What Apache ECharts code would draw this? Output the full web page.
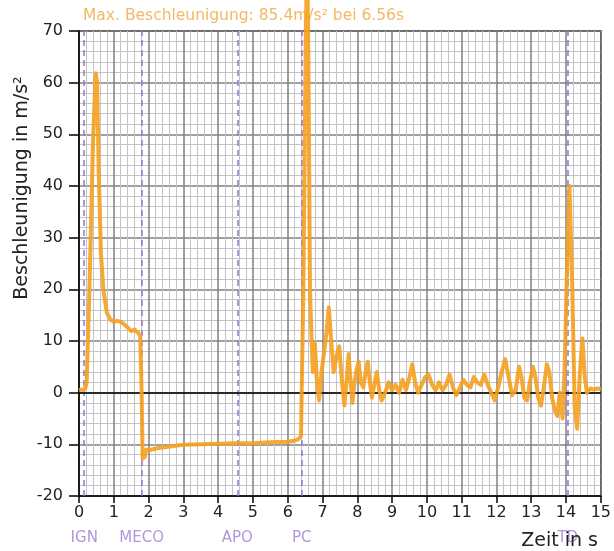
<!DOCTYPE html>
<html>
<head>
<meta charset="utf-8">
<script src="https://cdn.jsdelivr.net/npm/echarts@6/dist/echarts.min.js"></script>
<style>html,body{margin:0;padding:0;background:#fff}#c{width:614px;height:551px}</style>
</head>
<body>
<div id="c"></div>
<script>
// Time (s)
const times = [0.00,0.10,0.18,0.22,0.30,0.40,0.48,0.52,0.57,0.63,0.70,0.80,0.90,1.00,1.10,1.20,1.30,1.40,1.50,1.60,1.70,1.76,1.80,1.83,1.86,1.89,1.93,2.00,2.20,2.50,3.00,3.50,4.00,4.50,5.00,5.50,6.00,6.20,6.30,6.38,6.45,6.52,6.56,6.60,6.64,6.68,6.72,6.78,6.84,6.90,6.97,7.05,7.12,7.18,7.25,7.32,7.40,7.48,7.56,7.63,7.70,7.75,7.81,7.86,7.92,7.98,8.04,8.10,8.17,8.24,8.30,8.36,8.42,8.50,8.56,8.63,8.70,8.80,8.90,9.00,9.10,9.20,9.30,9.40,9.50,9.58,9.66,9.75,9.85,9.95,10.05,10.15,10.25,10.35,10.45,10.55,10.65,10.75,10.85,10.95,11.05,11.15,11.25,11.35,11.45,11.55,11.65,11.75,11.85,11.95,12.05,12.15,12.25,12.35,12.45,12.55,12.65,12.72,12.80,12.88,12.96,13.05,13.12,13.20,13.28,13.36,13.45,13.52,13.60,13.68,13.75,13.82,13.90,13.96,14.05,14.10,14.18,14.25,14.32,14.40,14.47,14.54,14.60,14.70,14.80,14.90,15.00];
// Acceleration (m/s²)
const accel = [0.5,0.6,0.8,2,20,48,61.8,60,42,27,20,15.5,14.2,13.7,13.9,13.7,13.2,12.6,11.9,12.2,11.6,11.0,0,-12.8,-11.2,-12.5,-11.0,-11.2,-10.8,-10.5,-10.1,-10.0,-9.9,-9.8,-9.8,-9.6,-9.5,-9.3,-9.0,-8.5,20,70,85.4,60,20,11.5,4,9.5,2,-1.5,4,8,12,16.5,10,4,7,9,2,-2.5,3,7.5,2,-2,2,4.5,6,2,1,4,6,2,-1,2,4,0.5,-1.5,0,2,0.5,1.5,0,2.5,0.5,3,5.5,2,0,1.5,3,3.5,1.5,0.5,2,0.5,1.5,3.5,1,-0.5,1,2.5,1.5,1,3,2,1.5,3.5,1.5,0,-1.5,1,4,6.5,3,-0.5,0.5,5,3,-1,-1.5,2,5,3,-1,-2.5,1,5.5,4,-1,-3.5,-4.5,0,-5,5,30,40,20,-3,-7,4,10.5,3,0,0.8,0.6,0.8,0.7];
// Flight events
const eventNames = ['IGN','MECO','APO','PC','TD'];
const eventTimes = [0.15,1.80,4.55,6.40,14.05];
// Axis ticks
const xTicks = [0,1,2,3,4,5,6,7,8,9,10,11,12,13,14,15];
const yTicks = [-20,-10,0,10,20,30,40,50,60,70];

const titleText = 'Max. Beschleunigung: 85.4m/s² bei 6.56s';
const FONT = 'DejaVu Sans';

const chart = echarts.init(document.getElementById('c'), null, {renderer: 'canvas'});
const seriesData = times.map((t, i) => [t, accel[i]]);
const purple = 'rgba(150,115,210,0.75)';

chart.setOption({
  animation: false,
  backgroundColor: '#fff',
  title: {
    text: titleText,
    left: 78, top: 3, z: 1,
    textStyle: {color: 'rgba(236,160,50,0.75)', fontSize: 15.5, fontWeight: 'normal', fontFamily: FONT}
  },
  grid: {left: 79, right: 13, top: 31, bottom: 55, show: true, borderColor: '#000', borderWidth: 1.5, backgroundColor: 'transparent'},
  xAxis: {
    type: 'value', min: xTicks[0], max: xTicks[xTicks.length - 1], interval: 1,
    axisLine: {show: true, onZero: false, lineStyle: {color: '#000', width: 1.5}},
    axisTick: {show: true, length: 7, lineStyle: {color: '#000', width: 1.5}},
    axisLabel: {color: '#222', fontSize: 16, fontFamily: FONT, margin: 9},
    splitLine: {show: true, lineStyle: {color: '#808080', width: 1.5}},
    minorTick: {show: false, splitNumber: 5},
    minorSplitLine: {show: true, lineStyle: {color: '#c4c4c8', width: 1}}
  },
  yAxis: {
    type: 'value', min: yTicks[0], max: yTicks[yTicks.length - 1], interval: 10,
    axisLine: {show: true, lineStyle: {color: '#000', width: 1.5}},
    axisTick: {show: true, length: 10, lineStyle: {color: '#000', width: 1.5}},
    axisLabel: {color: '#222', fontSize: 16, fontFamily: FONT, margin: 16},
    splitLine: {show: true, lineStyle: {color: '#808080', width: 1.5}},
    minorTick: {show: false, splitNumber: 5},
    minorSplitLine: {show: true, lineStyle: {color: '#c4c4c8', width: 1}}
  },
  graphic: [
    {type: 'text', x: 22, y: 188, rotation: Math.PI / 2, z: 100,
     style: {text: 'Beschleunigung in m/s²', fontSize: 19, fontFamily: FONT, fill: '#222', textAlign: 'center', textVerticalAlign: 'middle'}},
    {type: 'text', x: 598, y: 541, z: 100,
     style: {text: 'Zeit in s', fontSize: 19, fontFamily: FONT, fill: '#222', textAlign: 'right', textVerticalAlign: 'middle'}}
  ],
  series: [
    {
      type: 'line', data: [], z: 2, silent: true,
      markLine: {
        silent: true, symbol: 'none', animation: false,
        data: eventTimes.map((t, i) => ({
          xAxis: t, name: eventNames[i],
          lineStyle: {color: purple, width: 2, type: [6, 4]},
          label: {show: true, position: 'start', formatter: eventNames[i], distance: 35, color: 'rgba(150,115,210,0.75)', fontSize: 15, fontFamily: FONT}
        })).concat([{
          yAxis: 0, lineStyle: {color: '#000', width: 1.5, type: 'solid'}, label: {show: false}
        }])
      }
    },
    {
      type: 'line', data: seriesData, z: 10, clip: false,
      showSymbol: false, symbol: 'none',
      lineStyle: {color: 'rgba(245,160,30,0.9)', width: 4, join: 'round'}
    }
  ]
});
</script>
</body>
</html>
